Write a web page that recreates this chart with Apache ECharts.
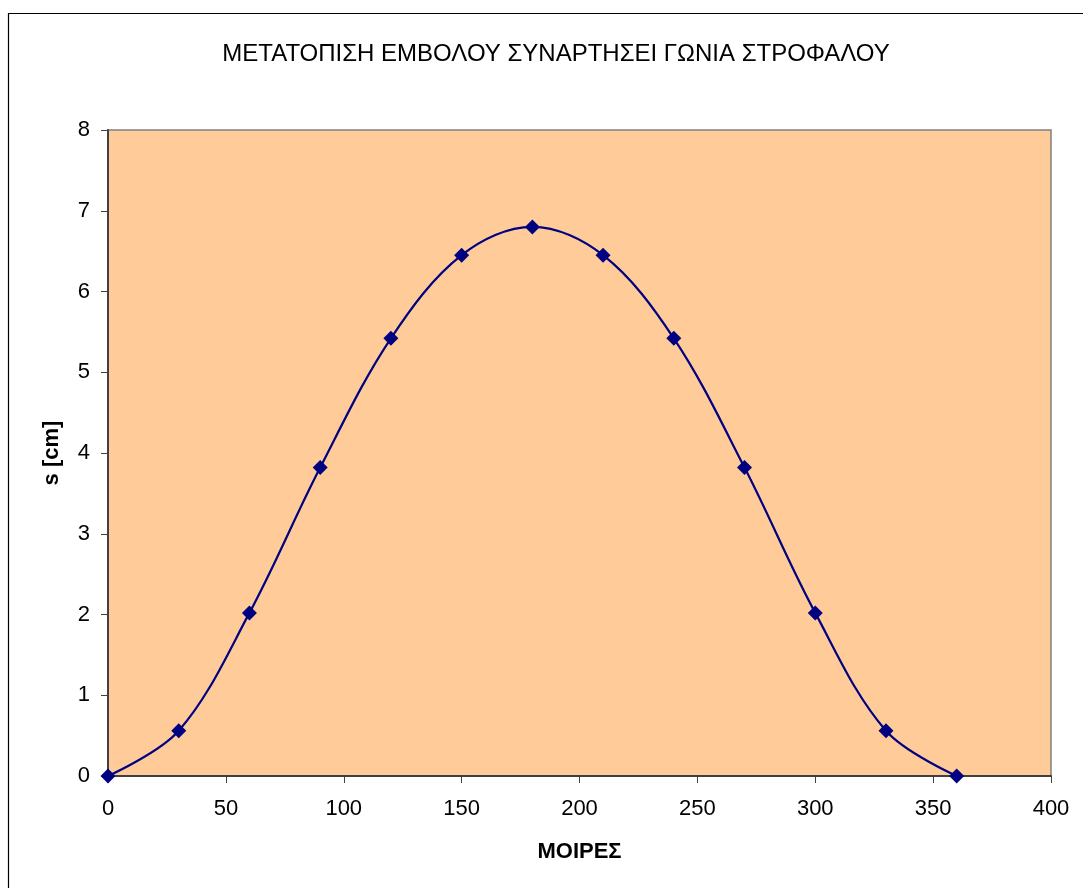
<!DOCTYPE html>
<html>
<head>
<meta charset="utf-8">
<script src="https://cdn.jsdelivr.net/npm/echarts@6/dist/echarts.min.js"></script>
<style>
  html, body { margin: 0; padding: 0; background: #ffffff; }
  #chart { width: 1083px; height: 888px; }
</style>
</head>
<body>
<div id="chart"></div>
<script>
// Crank angle (degrees) and piston displacement s (cm)
const angles = [0, 30, 60, 90, 120, 150, 180, 210, 240, 270, 300, 330, 360];
const displacement = [0, 0.56, 2.02, 3.82, 5.42, 6.45, 6.8, 6.45, 5.42, 3.82, 2.02, 0.56, 0];

const titleText = 'ΜΕΤΑΤΟΠΙΣΗ ΕΜΒΟΛΟΥ ΣΥΝΑΡΤΗΣΕΙ ΓΩΝΙΑ ΣΤΡΟΦΑΛΟΥ';
const xName = 'ΜΟΙΡΕΣ';
const yName = 's [cm]';

const font = 'Liberation Sans, Arial, sans-serif';
const chart = echarts.init(document.getElementById('chart'), null, { renderer: 'canvas' });

chart.setOption({
  backgroundColor: '#ffffff',
  animation: false,
  title: {
    text: titleText,
    left: 551,
    top: 37,
    textAlign: 'center',
    textStyle: { fontFamily: font, fontSize: 24, fontWeight: 'normal', color: '#000' }
  },
  graphic: [
    {
      type: 'rect',
      shape: { x: 8.5, y: 13.5, width: 1200, height: 1000 },
      style: { fill: 'none', stroke: '#000', lineWidth: 1.2 },
      silent: true
    }
  ],
  grid: {
    left: 108, top: 130, right: 32, bottom: 112,
    show: true,
    backgroundColor: '#FFCC99',
    borderColor: '#808080',
    borderWidth: 1.5
  },
  xAxis: {
    type: 'value',
    min: 0, max: 400, interval: 50,
    name: xName,
    nameLocation: 'middle',
    nameGap: 65,
    nameTextStyle: { fontFamily: font, fontSize: 22, fontWeight: 'bold', color: '#000' },
    axisLine: { show: true, lineStyle: { color: '#404040', width: 2 } },
    axisTick: { show: true, inside: false, length: 7, lineStyle: { color: '#404040', width: 1 } },
    axisLabel: { fontFamily: font, fontSize: 22, color: '#000', margin: 22 },
    splitLine: { show: false }
  },
  yAxis: {
    type: 'value',
    min: 0, max: 8, interval: 1,
    name: yName,
    nameLocation: 'middle',
    nameGap: 45,
    nameRotate: 90,
    nameTextStyle: { fontFamily: font, fontSize: 22, fontWeight: 'bold', color: '#000' },
    axisLine: { show: true, lineStyle: { color: '#404040', width: 2 } },
    axisTick: { show: true, inside: false, length: 7, lineStyle: { color: '#404040', width: 1 } },
    axisLabel: { fontFamily: font, fontSize: 22, color: '#000', margin: 18 },
    splitLine: { show: false }
  },
  series: [
    {
      type: 'line',
      data: angles.map((a, i) => [a, displacement[i]]),
      smooth: 0.35,
      symbol: 'diamond',
      symbolSize: 15,
      showAllSymbol: true,
      lineStyle: { color: '#000080', width: 2.2 },
      itemStyle: { color: '#000080' },
      z: 3
    }
  ]
});
</script>
</body>
</html>
